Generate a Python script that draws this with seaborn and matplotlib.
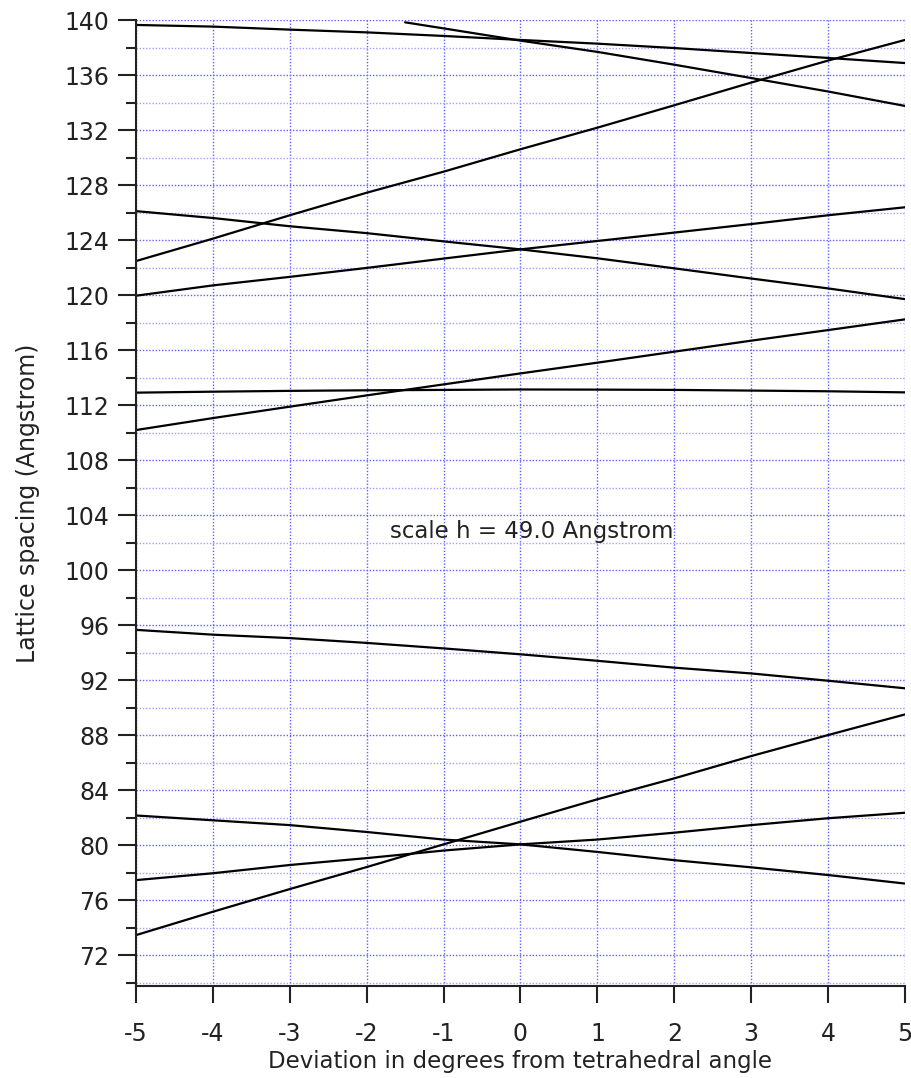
import numpy as np
import pandas as pd
import matplotlib
matplotlib.use("Agg")
import matplotlib.pyplot as plt
from matplotlib.ticker import MultipleLocator
import seaborn as sns

# Deviation from the tetrahedral angle (degrees)
dev = [-5, -4, -3, -2, -1, 0, 1, 2, 3, 4, 5]
dev_short = [-1.5, -1, 0, 1, 2, 3, 4, 5]

# Lattice spacings (Angstrom) for each reflection branch
spacing_a = [139.64, 139.52, 139.30, 139.10, 138.84, 138.55, 138.28, 137.96, 137.60, 137.24, 136.87]
spacing_b = [139.83, 139.39, 138.50, 137.68, 136.75, 135.78, 134.80, 133.75]
spacing_c = [122.47, 124.10, 125.80, 127.44, 128.97, 130.60, 132.17, 133.80, 135.45, 137.05, 138.55]
spacing_d = [126.10, 125.60, 125.00, 124.50, 123.90, 123.32, 122.67, 121.94, 121.20, 120.48, 119.70]
spacing_e = [119.95, 120.70, 121.32, 121.97, 122.65, 123.32, 123.93, 124.54, 125.16, 125.80, 126.38]
spacing_f = [112.90, 112.97, 113.03, 113.07, 113.10, 113.13, 113.12, 113.10, 113.05, 113.00, 112.92]
spacing_g = [110.18, 111.05, 111.88, 112.70, 113.50, 114.30, 115.08, 115.88, 116.68, 117.45, 118.23]
spacing_h = [95.65, 95.30, 95.05, 94.70, 94.30, 93.87, 93.40, 92.90, 92.48, 91.95, 91.40]
spacing_i = [73.45, 75.15, 76.80, 78.40, 80.05, 81.70, 83.33, 84.85, 86.47, 88.00, 89.50]
spacing_j = [82.15, 81.80, 81.45, 80.95, 80.40, 80.05, 79.50, 78.90, 78.38, 77.82, 77.20]
spacing_k = [77.45, 77.95, 78.55, 79.05, 79.60, 80.05, 80.40, 80.90, 81.45, 81.95, 82.35]

branches = [
    (dev, spacing_a), (dev_short, spacing_b), (dev, spacing_c), (dev, spacing_d),
    (dev, spacing_e), (dev, spacing_f), (dev, spacing_g), (dev, spacing_h),
    (dev, spacing_i), (dev, spacing_j), (dev, spacing_k),
]

x_ticks = [-5, -4, -3, -2, -1, 0, 1, 2, 3, 4, 5]
y_ticks = list(range(72, 141, 4))

sns.set_style("ticks")
plt.rcParams["font.family"] = ["DejaVu Sans"]
plt.rcParams.update({
    "xtick.direction": "out", "ytick.direction": "out",
    "xtick.major.size": 12, "xtick.major.width": 1.5, "xtick.major.pad": 14,
    "ytick.major.size": 13, "ytick.major.width": 1.5, "ytick.major.pad": 6,
    "ytick.minor.size": 7, "ytick.minor.width": 1.5,
    "xtick.bottom": True, "ytick.left": True,
})

fig = plt.figure(figsize=(9.12, 10.78), dpi=100)
ax = fig.add_axes([136 / 912, 1 - 986 / 1078, (905 - 136) / 912, (986 - 20) / 1078])

frames = []
for i, (xs, ys) in enumerate(branches):
    frames.append(pd.DataFrame({"dev": xs, "spacing": ys, "branch": i}))
df = pd.concat(frames, ignore_index=True)

sns.lineplot(data=df, x="dev", y="spacing", units="branch", estimator=None,
             color="black", linewidth=1.6, ax=ax, sort=False)

ax.set_xlim(-5, 5)
ax.set_ylim(69.75, 140)
ax.set_xticks(x_ticks)
ax.set_xticklabels([str(t) for t in x_ticks])
ax.set_yticks(y_ticks)
ax.set_yticklabels([str(t) for t in y_ticks])
ax.yaxis.set_minor_locator(MultipleLocator(2))

# dotted blue grid
ax.grid(True, which="major", axis="both", color="#6060ff", linestyle=(0, (1, 1.3)), linewidth=1.0)
ax.grid(True, which="minor", axis="y", color="#a0a0ff", linestyle=(0, (1, 1.3)), linewidth=1.0)
ax.set_axisbelow(True)

for side in ("top", "right"):
    ax.spines[side].set_visible(False)
for side in ("left", "bottom"):
    ax.spines[side].set_linewidth(1.5)
    ax.spines[side].set_color("#222222")

ax.tick_params(axis="y", which="major", direction="out", length=13, width=1.5,
               labelsize=17, pad=6, colors="#222222")
ax.tick_params(axis="y", which="minor", direction="out", length=7, width=1.5, colors="#222222")
ax.tick_params(axis="x", which="major", direction="out", bottom=True, length=12, width=1.5,
               labelsize=17, pad=14, colors="#222222")

ax.set_xlabel("Deviation in degrees from tetrahedral angle", fontsize=16.5, labelpad=3, color="#222222")
ax.set_ylabel("Lattice spacing (Angstrom)", fontsize=17, labelpad=18, color="#222222")

ax.text(0.15, 102.8, "scale h = 49.0 Angstrom", ha="center", va="center", fontsize=16.5, color="#222222")

fig.savefig("out.png", dpi=100)
